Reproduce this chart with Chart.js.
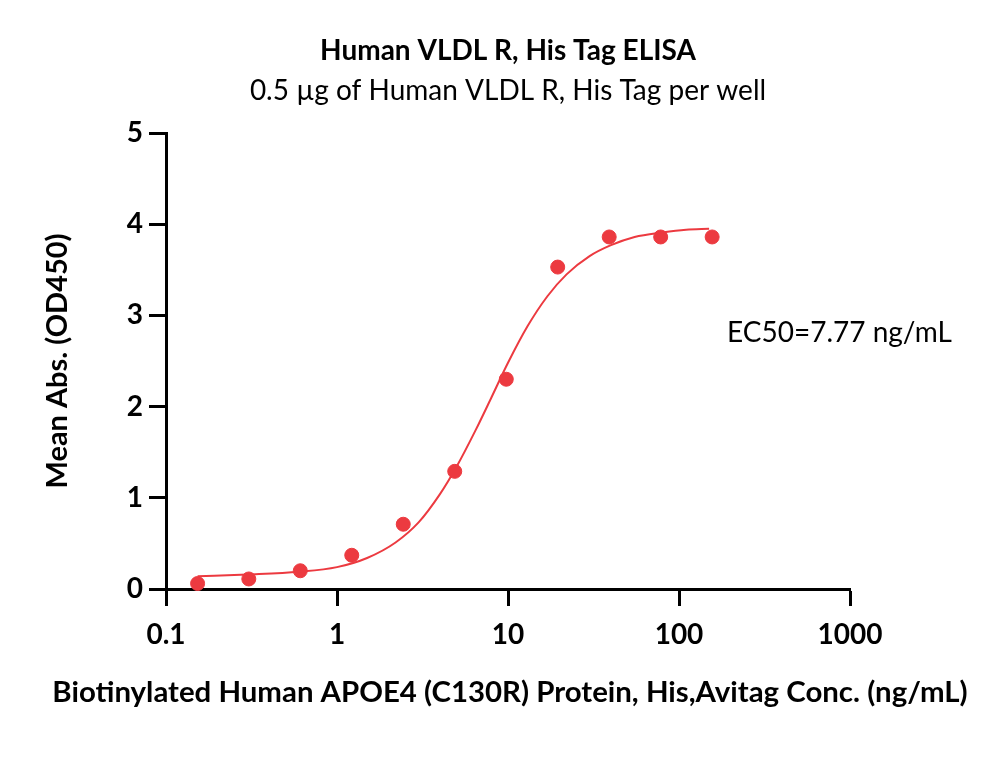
<!DOCTYPE html>
<html>
<head>
<meta charset="utf-8">
<script src="https://cdn.jsdelivr.net/npm/chart.js@4.4.1/dist/chart.umd.min.js"></script>
<style>
  html, body { margin: 0; padding: 0; background: #fff; }
  #wrap { width: 1000px; height: 782px; }
</style>
</head>
<body>
<div id="wrap"><canvas id="elisa" width="1000" height="782"></canvas></div>
<script>
// measured points (ng/mL, OD450)
const concentrations = [0.153, 0.305, 0.61, 1.22, 2.44, 4.88, 9.77, 19.53, 39.06, 78.13, 156.25];
const meanAbs = [0.06, 0.11, 0.20, 0.37, 0.71, 1.29, 2.30, 3.53, 3.86, 3.86, 3.86];

// fitted curve
const fitConc = [0.153, 0.3, 0.6, 1.0, 1.5, 2.2, 3.0, 4.0, 5.0, 6.5, 8.0, 10, 13, 17, 22, 30, 40, 55, 80, 110, 150];
const fitAbs = [0.14, 0.16, 0.19, 0.24, 0.34, 0.51, 0.73, 1.04, 1.34, 1.75, 2.10, 2.48, 2.88, 3.21, 3.45, 3.65, 3.77, 3.86, 3.91, 3.94, 3.95];

const xTicks = [0.1, 1, 10, 100, 1000];
const yTicks = [0, 1, 2, 3, 4, 5];

const title = 'Human VLDL R, His Tag ELISA';
const subtitle = '0.5 \u00b5g of Human VLDL R, His Tag per well';
const ec50Label = 'EC50=7.77 ng/mL';
const xTitle = 'Biotinylated Human APOE4 (C130R) Protein, His,Avitag Conc. (ng/mL)';
const yTitle = 'Mean Abs. (OD450)';

const red = 'rgb(236,58,64)';
const fontFamily = 'Lato, "Open Sans", sans-serif';

const textPlugin = {
  id: 'texts',
  afterDraw(chart) {
    const ctx = chart.ctx;
    ctx.save();
    ctx.fillStyle = '#000';
    ctx.textAlign = 'center';
    ctx.textBaseline = 'middle';
    ctx.font = 'bold 28px ' + fontFamily;
    ctx.fillText(title, 508, 51);
    ctx.font = '28px ' + fontFamily;
    ctx.fillText(subtitle, 508, 91);

    // x axis title is wider than the plot, so it is drawn here
    let size = 30;
    ctx.font = 'bold ' + size + 'px ' + fontFamily;
    const w = ctx.measureText(xTitle).width;
    size = Math.min(34, size * 916 / w);
    ctx.font = 'bold ' + size.toFixed(1) + 'px ' + fontFamily;
    ctx.fillText(xTitle, 510, 693);

    ctx.textAlign = 'left';
    ctx.font = '28px ' + fontFamily;
    ctx.fillText(ec50Label, 727, 333);
    ctx.restore();
  }
};

const ctx = document.getElementById('elisa').getContext('2d');
const chart = new Chart(ctx, {
  type: 'scatter',
  data: {
    datasets: [
      {
        label: 'fit',
        data: fitConc.map((c, i) => ({ x: c, y: fitAbs[i] })),
        showLine: true,
        borderColor: red,
        borderWidth: 2,
        pointRadius: 0,
        cubicInterpolationMode: 'monotone',
        clip: false
      },
      {
        label: 'points',
        data: concentrations.map((c, i) => ({ x: c, y: meanAbs[i] })),
        backgroundColor: red,
        borderColor: red,
        pointRadius: 7,
        clip: false
      }
    ]
  },
  options: {
    responsive: false,
    animation: false,
    layout: { padding: { top: 133, right: 150, left: 0, bottom: 0 } },
    plugins: {
      legend: { display: false },
      tooltip: { enabled: false }
    },
    scales: {
      x: {
        type: 'logarithmic',
        min: 0.1,
        max: 1000,
        afterFit: (scale) => { scale.height = 193; },
        afterBuildTicks: (scale) => { scale.ticks = xTicks.map(v => ({ value: v })); },
        grid: { drawOnChartArea: false, drawTicks: true, tickLength: 17, tickWidth: 3, tickColor: '#000' },
        border: { display: true, color: '#000', width: 3 },
        ticks: {
          color: '#000',
          padding: 12,
          font: { family: fontFamily, size: 28, weight: 'bold' },
          callback: (v) => String(v)
        }
      },
      y: {
        min: 0,
        max: 5,
        afterFit: (scale) => { scale.width = 166; },
        afterBuildTicks: (scale) => { scale.ticks = yTicks.map(v => ({ value: v })); },
        grid: { drawOnChartArea: false, drawTicks: true, tickLength: 17, tickWidth: 3, tickColor: '#000' },
        border: { display: true, color: '#000', width: 3 },
        ticks: {
          color: '#000',
          padding: 6,
          font: { family: fontFamily, size: 28, weight: 'bold' }
        },
        title: {
          display: true,
          text: yTitle,
          color: '#000',
          font: { family: fontFamily, size: 29, weight: 'bold' },
          padding: { top: 40, bottom: 0 }
        }
      }
    }
  },
  plugins: [textPlugin]
});
</script>
</body>
</html>
